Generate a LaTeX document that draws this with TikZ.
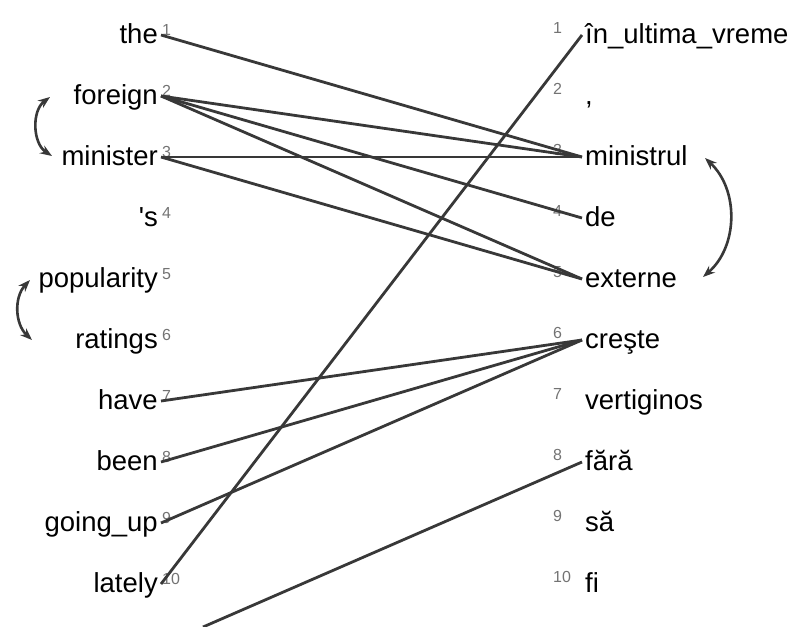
\documentclass[tikz,border=0pt]{standalone}
\usepackage{fontspec}
\setmainfont{Liberation Sans}
\usetikzlibrary{arrows.meta}

\begin{document}
\begin{tikzpicture}[x=1pt,y=-1pt,
  word/.style={inner xsep=3pt, inner ysep=0pt, text height=20pt, text depth=4pt, font=\fontsize{27.5}{30}\selectfont},
  idx/.style={inner sep=0pt, text=black!55, font=\fontsize{16}{18}\selectfont},
  link/.style={draw=black!78, line width=2.8pt},
  swap/.style={draw=black!78, line width=2.6pt, {Stealth[length=12pt,width=9pt]}-{Stealth[length=12pt,width=9pt]}}]
\useasboundingbox (0,0) rectangle (796,627);
% english side
\node[word, anchor=east] (the) at (161,35) {the};
\node[word, anchor=east] (foreign) at (161,96) {foreign};
\node[word, anchor=east] (minister) at (161,157) {minister};
\node[word, anchor=east] (s) at (161,218) {\textquotesingle s};
\node[word, anchor=east] (popularity) at (161,279) {popularity};
\node[word, anchor=east] (ratings) at (161,340) {ratings};
\node[word, anchor=east] (have) at (161,401) {have};
\node[word, anchor=east] (been) at (161,462) {been};
\node[word, anchor=east] (goingup) at (161,523) {going\_up};
\node[word, anchor=east] (lately) at (161,584) {lately};
\node[idx, anchor=base west] (n1) at (162,35) {1};
\node[idx, anchor=base west] (n2) at (162,96) {2};
\node[idx, anchor=base west] (n3) at (162,157) {3};
\node[idx, anchor=base west] (n4) at (162,218) {4};
\node[idx, anchor=base west] (n5) at (162,279) {5};
\node[idx, anchor=base west] (n6) at (162,340) {6};
\node[idx, anchor=base west] (n7) at (162,401) {7};
\node[idx, anchor=base west] (n8) at (162,462) {8};
\node[idx, anchor=base west] (n9) at (162,523) {9};
\node[idx, anchor=base west] (n10) at (162,584) {10};
% romanian side
\node[word, anchor=west] (inultima) at (582,35) {în\_ultima\_vreme};
\node[word, anchor=west] (comma) at (582,96) {,};
\node[word, anchor=west] (ministrul) at (582,157) {ministrul};
\node[word, anchor=west] (de) at (582,218) {de};
\node[word, anchor=west] (externe) at (582,279) {externe};
\node[word, anchor=west] (creste) at (582,340) {creşte};
\node[word, anchor=west] (vertiginos) at (582,401) {vertiginos};
\node[word, anchor=west] (fara) at (582,462) {fără};
\node[word, anchor=west] (sa) at (582,523) {să};
\node[word, anchor=west] (fi) at (582,584) {fi};
\node[idx, anchor=base west] (m1) at (553,33) {1};
\node[idx, anchor=base west] (m2) at (553,94) {2};
\node[idx, anchor=base west] (m3) at (553,155) {3};
\node[idx, anchor=base west] (m4) at (553,216) {4};
\node[idx, anchor=base west] (m5) at (553,277) {5};
\node[idx, anchor=base west] (m6) at (553,338) {6};
\node[idx, anchor=base west] (m7) at (553,399) {7};
\node[idx, anchor=base west] (m8) at (553,460) {8};
\node[idx, anchor=base west] (m9) at (553,521) {9};
\node[idx, anchor=base west] (m10) at (553,582) {10};
% alignment links
\draw[link] (the.east) -- (ministrul.west);
\draw[link] (foreign.east) -- (ministrul.west);
\draw[link] (foreign.east) -- (de.west);
\draw[link] (foreign.east) -- (externe.west);
\draw[link] (minister.east) -- (ministrul.west);
\draw[link] (minister.east) -- (externe.west);
\draw[link] (have.east) -- (creste.west);
\draw[link] (been.east) -- (creste.west);
\draw[link] (goingup.east) -- (creste.west);
\draw[link] (lately.east) -- (inultima.west);
\coordinate (off) at (203,627);
\draw[link] (off) -- (fara.west);
% reorderings
\coordinate (fm1) at (50,97);
\coordinate (fm2) at (52,156);
\coordinate (pr1) at (30,280);
\coordinate (pr2) at (32,340);
\coordinate (me1) at (705,158);
\coordinate (me2) at (703,277);
\draw[swap] (fm1) to[bend right=55] (fm2);
\draw[swap] (pr1) to[bend right=45] (pr2);
\draw[swap] (me1) to[bend left=48] (me2);
\end{tikzpicture}
\end{document}
